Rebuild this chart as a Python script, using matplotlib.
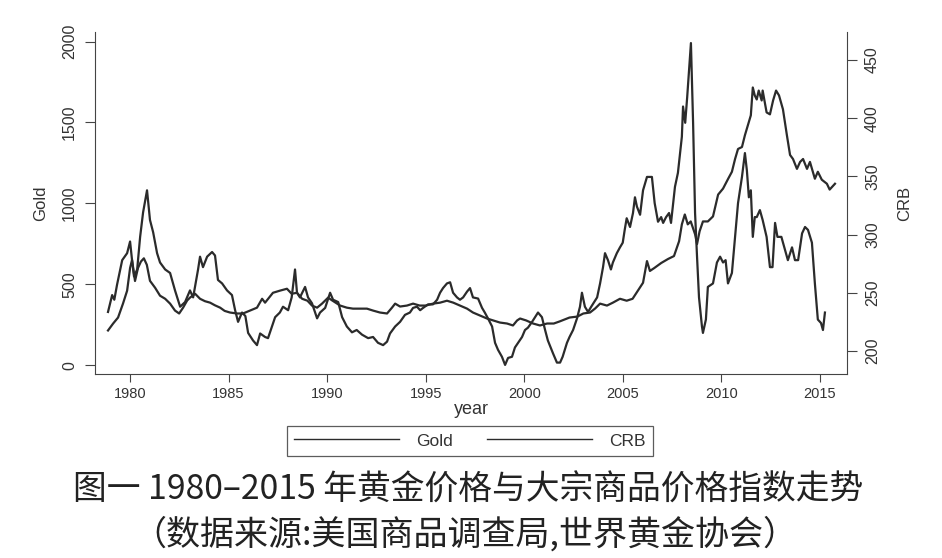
import numpy as np
import matplotlib
matplotlib.use("Agg")
import matplotlib.pyplot as plt

# Gold price (left axis)
gold_year = [1978.88, 1979.14, 1979.39, 1979.64, 1979.85, 1980.0, 1980.1, 1980.25, 1980.4, 1980.55,
             1980.7, 1980.85, 1981.01, 1981.27, 1981.52, 1981.78, 1982.03, 1982.28, 1982.49, 1982.69,
             1982.9, 1983.04, 1983.3, 1983.55, 1983.8, 1984.06, 1984.3, 1984.57, 1984.8, 1985.07,
             1985.43, 1985.73, 1986.09, 1986.44, 1986.7, 1986.85, 1987.25, 1987.6, 1987.96, 1988.2,
             1988.47, 1988.73, 1989.0, 1989.23, 1989.49, 1989.74, 1990.05, 1990.25, 1990.66, 1991.0,
             1991.31, 1991.67, 1992.02, 1992.33, 1992.68, 1993.04, 1993.29, 1993.45, 1993.7, 1994.05,
             1994.36, 1994.7, 1995.0, 1995.37, 1995.73, 1996.08, 1996.4, 1996.74, 1997.1, 1997.4,
             1997.76, 1998.11, 1998.42, 1998.77, 1999.13, 1999.43, 1999.64, 1999.79, 2000.1, 2000.45,
             2000.8, 2001.16, 2001.5, 2001.8, 2002.3, 2002.7, 2003.0, 2003.34, 2003.6, 2003.85,
             2004.2, 2004.5, 2004.86, 2005.2, 2005.5, 2005.77, 2006.03, 2006.23, 2006.38, 2006.6,
             2006.95, 2007.3, 2007.6, 2007.86, 2008.0, 2008.15, 2008.3, 2008.45, 2008.67, 2008.77,
             2008.9, 2009.07, 2009.32, 2009.58, 2009.84, 2010.09, 2010.35, 2010.54, 2010.7, 2010.85,
             2011.05, 2011.2, 2011.35, 2011.5, 2011.6, 2011.7, 2011.8, 2011.9, 2012.05, 2012.1,
             2012.3, 2012.47, 2012.63, 2012.78, 2012.93, 2013.13, 2013.33, 2013.49, 2013.64, 2013.84,
             2014.0, 2014.15, 2014.35, 2014.5, 2014.75, 2014.9, 2015.1, 2015.36, 2015.5, 2015.77]
gold = [214, 257, 294, 380, 460, 600, 650, 520, 600, 640,
        660, 620, 521, 478, 429, 410, 380, 337, 319, 355,
        400, 417, 441, 410, 395, 386, 370, 355, 335, 325,
        319, 319, 337, 355, 410, 386, 447, 460, 472, 441,
        447, 410, 398, 368, 355, 380, 417, 400, 368, 355,
        349, 349, 349, 337, 325, 319, 355, 380, 362, 368,
        380, 368, 368, 380, 386, 398, 386, 368, 349, 325,
        306, 288, 276, 263, 257, 245, 276, 288, 276, 257,
        245, 257, 257, 270, 294, 300, 319, 325, 350, 380,
        368, 386, 410, 398, 410, 460, 509, 643, 582, 600,
        631, 656, 674, 766, 870, 931, 870, 888, 809, 748,
        827, 888, 888, 919, 1054, 1091, 1152, 1195, 1274, 1336,
        1348, 1421, 1483, 1544, 1716, 1667, 1642, 1697, 1636, 1697,
        1562, 1550, 1636, 1697, 1667, 1581, 1421, 1299, 1274, 1213,
        1256, 1274, 1213, 1256, 1152, 1195, 1146, 1121, 1085, 1121]

# CRB index (right axis)
crb_year = [1978.88, 1979.09, 1979.2, 1979.34, 1979.6, 1979.85, 1980.0, 1980.1, 1980.2, 1980.36,
            1980.51, 1980.66, 1980.86, 1981.01, 1981.17, 1981.37, 1981.52, 1981.78, 1982.03, 1982.28,
            1982.54, 1982.79, 1983.04, 1983.2, 1983.45, 1983.55, 1983.7, 1983.91, 1984.16, 1984.31,
            1984.46, 1984.67, 1984.92, 1985.17, 1985.33, 1985.48, 1985.68, 1985.85, 1985.99, 1986.24,
            1986.44, 1986.6, 1986.85, 1987.0, 1987.2, 1987.36, 1987.6, 1987.76, 1988.02, 1988.2,
            1988.37, 1988.47, 1988.62, 1988.88, 1989.03, 1989.23, 1989.49, 1989.64, 1989.9, 1990.15,
            1990.3, 1990.56, 1990.76, 1991.0, 1991.26, 1991.5, 1991.77, 1992.08, 1992.33, 1992.58,
            1992.84, 1993.04, 1993.19, 1993.45, 1993.7, 1993.95, 1994.2, 1994.36, 1994.56, 1994.72,
            1994.87, 1995.12, 1995.37, 1995.58, 1995.73, 1995.88, 1996.08, 1996.24, 1996.39, 1996.59,
            1996.74, 1996.9, 1997.1, 1997.25, 1997.4, 1997.66, 1997.86, 1998.0, 1998.16, 1998.37,
            1998.52, 1998.67, 1998.87, 1999.03, 1999.18, 1999.38, 1999.53, 1999.69, 1999.89, 2000.04,
            2000.19, 2000.4, 2000.55, 2000.7, 2000.9, 2001.06, 2001.2, 2001.46, 2001.66, 2001.82,
            2001.95, 2002.17, 2002.3, 2002.48, 2002.68, 2002.83, 2002.93, 2003.08, 2003.24, 2003.4,
            2003.7, 2003.85, 2004.0, 2004.1, 2004.25, 2004.4, 2004.5, 2004.7, 2004.86, 2005.0,
            2005.1, 2005.2, 2005.37, 2005.52, 2005.62, 2005.72, 2005.88, 2006.03, 2006.23, 2006.35,
            2006.48, 2006.62, 2006.79, 2006.95, 2007.05, 2007.2, 2007.35, 2007.45, 2007.65, 2007.8,
            2008.0, 2008.06, 2008.17, 2008.27, 2008.46, 2008.57, 2008.67, 2008.77, 2008.87, 2009.02,
            2009.07, 2009.22, 2009.32, 2009.58, 2009.78, 2009.94, 2010.09, 2010.22, 2010.34, 2010.54,
            2010.7, 2010.85, 2011.05, 2011.2, 2011.3, 2011.4, 2011.5, 2011.6, 2011.7, 2011.8,
            2011.96, 2012.1, 2012.3, 2012.47, 2012.6, 2012.73, 2012.85, 2013.05, 2013.23, 2013.38,
            2013.59, 2013.74, 2013.9, 2014.1, 2014.25, 2014.4, 2014.6, 2014.75, 2014.9, 2015.06,
            2015.16, 2015.26]
crb = [233.5, 248, 244, 257, 278, 284, 294, 278, 264, 270,
       298, 319, 338, 312.5, 302, 284, 276, 270, 267, 252,
       238, 242, 252, 246, 270, 281, 272, 281, 285, 282,
       261, 258, 252, 248, 235, 225, 233, 230, 215.5, 209,
       205, 215, 212, 211, 221, 229, 233, 238, 235, 246,
       270, 250, 246, 255, 246, 241, 228, 233, 237, 250,
       244, 242, 229, 221, 216, 218, 214, 211, 212, 207,
       205, 208, 215, 221, 225, 231, 233, 237, 238, 235,
       237, 240, 240, 244, 250, 254, 258, 259, 250, 246,
       244, 246, 251, 254, 246, 245, 237, 233, 228, 221,
       207, 201, 195, 188, 194, 195, 203, 207, 212, 218,
       220, 225, 229, 233, 229, 218, 209, 198, 190, 190,
       195, 207, 212, 218, 228, 238, 250, 238, 233.5, 238,
       246, 258, 272, 284, 278, 270, 276, 284, 289, 293,
       304, 314, 306.5, 318.5, 332, 324, 317, 338, 349.5, 349.5,
       349.5, 327, 311, 315, 310, 315, 318.5, 310, 341, 353,
       384, 410, 396, 418, 464.5, 396, 318.5, 281, 246, 221,
       215.5, 227, 255, 258, 276, 281, 276, 278, 258, 267,
       298, 327, 349.5, 370, 355, 332, 338, 298, 315, 315,
       321, 312.5, 298, 272, 272, 310, 298, 298, 287, 278,
       289, 278, 278, 301, 306.5, 304, 293, 258, 227, 224,
       218, 233]

gold_ticks = [0, 500, 1000, 1500, 2000]
crb_ticks = [200, 250, 300, 350, 400, 450]
year_ticks = [1980, 1985, 1990, 1995, 2000, 2005, 2010, 2015]

line_color = "#2b2b2b"
text_color = "#333333"
plt.rcParams["font.family"] = ["Liberation Sans", "DejaVu Sans"]

fig = plt.figure(figsize=(9.42, 5.58), dpi=100)
ax = fig.add_axes([95 / 942, 1 - 374 / 558, (847 - 95) / 942, (374 - 32) / 558])
ax2 = ax.twinx()

l1, = ax.plot(gold_year, gold, color=line_color, lw=1.6, label="Gold")
l2, = ax2.plot(crb_year, crb, color=line_color, lw=1.6, label="CRB")

ax.set_xlim(1978.22, 2016.38)
ax.set_ylim(-55, 2059)
ax2.set_ylim(180.2, 474)

ax.set_xticks(year_ticks)
ax.set_yticks(gold_ticks)
ax2.set_yticks(crb_ticks)

for a in (ax, ax2):
    a.spines["top"].set_visible(False)
ax.spines["right"].set_visible(False)
ax2.spines["left"].set_visible(False)
ax2.spines["bottom"].set_visible(False)
for s in ("left", "bottom"):
    ax.spines[s].set_color("#444444")
ax2.spines["right"].set_color("#444444")

ax.tick_params(axis="x", length=6, width=0.8, colors="#444444", labelcolor=text_color,
               labelsize=10.5, pad=3)
ax.tick_params(axis="y", length=7, width=0.8, colors="#444444", labelcolor=text_color,
               labelsize=11.5, labelrotation=90, pad=6)
ax2.tick_params(axis="y", length=7, width=0.8, colors="#444444", labelcolor=text_color,
                labelsize=11.5, labelrotation=90, pad=6)
for lbl in ax.get_yticklabels() + ax2.get_yticklabels():
    lbl.set_va("center")

ax.set_xlabel("year", fontsize=13, color=text_color, labelpad=0)
ax.set_ylabel("Gold", fontsize=12, color=text_color, labelpad=10)
ax2.set_ylabel("CRB", fontsize=12, color=text_color, labelpad=12)

leg = fig.legend(handles=[l1, l2], loc="center", bbox_to_anchor=(470 / 942, 1 - 441 / 558),
                 ncol=2, frameon=True, fancybox=False, edgecolor="#333333",
                 handlelength=6.0, columnspacing=2.0, fontsize=12.5, borderpad=0.45,
                 handletextpad=1.0)
leg.get_frame().set_linewidth(0.9)
for line in leg.get_lines():
    line.set_linewidth(1.0)
for t in leg.get_texts():
    t.set_color(text_color)

cjk = ["Noto Sans CJK SC", "DejaVu Sans"]
fig.text(0.497, 1 - 490 / 558, "图一 1980–2015 年黄金价格与大宗商品价格指数走势",
         family=cjk, fontsize=24.3, fontweight="light", ha="center", va="center", color="#222222")
fig.text(0.493, 1 - 535 / 558, "（数据来源:美国商品调查局,世界黄金协会）",
         family=cjk, fontsize=24.5, fontweight="light", ha="center", va="center", color="#222222")

fig.savefig("out.png", dpi=100)
